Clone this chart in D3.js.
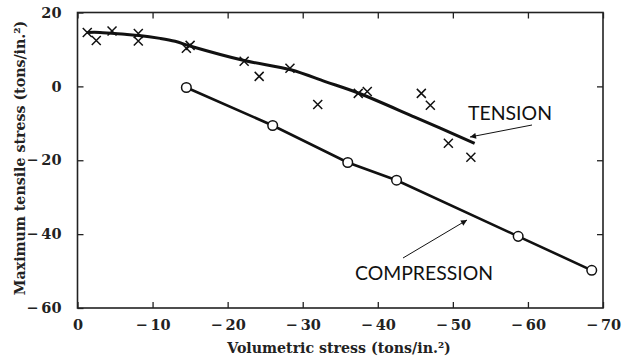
<!DOCTYPE html>
<html><head><meta charset="utf-8">
<script src="https://cdn.jsdelivr.net/npm/d3@7"></script>
<style>body{margin:0;background:#fff}svg{display:block}</style>
</head><body>
<script>
// Data
const tensionPoints = [
  [-1.3,14.6],[-2.5,12.4],[-4.6,15.0],[-8.1,14.3],[-8.1,12.3],[-14.5,10.3],[-15.0,11.1],
  [-22.2,6.8],[-24.2,2.7],[-28.3,4.9],[-32.0,-4.9],[-37.4,-1.9],[-38.6,-1.4],
  [-45.8,-1.9],[-47.0,-5.1],[-49.4,-15.4],[-52.4,-19.2]
];
const tensionCurve = [
  [-1.3,14.6],[-3.0,14.6],[-6.3,14.1],[-8.2,13.8],[-11,13.0],[-13,12.2],[-15.2,10.8],
  [-22.2,7.0],[-28.4,4.5],[-33,1.3],[-37.4,-1.8],[-45,-8.4],[-52.9,-15.4]
];
const compressionPoints = [
  [-14.5,-0.3],[-26.0,-10.6],[-36.0,-20.6],[-42.5,-25.4],[-58.7,-40.6],[-68.5,-49.8]
];
const xTicks = [0,-10,-20,-30,-40,-50,-60,-70];
const yTicks = [20,0,-20,-40,-60];
const rightTicks = [0,-20,-40];
const xTitle = "Volumetric stress (tons/in.²)";
const yTitle = "Maximum tensile stress (tons/in.²)";

const W=624,H=358;
const L=77.5,R=603,T=12.5,B=308;
const svg=d3.select("body").append("svg").attr("width",W).attr("height",H);
const x=d3.scaleLinear().domain([0,-70]).range([L,R]);
const y=d3.scaleLinear().domain([-60,20]).range([B,T]);
const fmt=d=> d<0 ? "\u2212\u2009"+Math.abs(d) : String(d);
const serif="'DejaVu Serif', serif";

// axes with inward ticks
const gB=svg.append("g").attr("transform",`translate(0,${B})`)
  .call(d3.axisBottom(x).tickValues(xTicks).tickSizeInner(-6).tickSizeOuter(0).tickPadding(12).tickFormat(fmt));
const gT=svg.append("g").attr("transform",`translate(0,${T})`)
  .call(d3.axisTop(x).tickValues(xTicks).tickSizeInner(-6).tickSizeOuter(0).tickFormat(""));
const gL=svg.append("g").attr("transform",`translate(${L},0)`)
  .call(d3.axisLeft(y).tickValues(yTicks).tickSizeInner(-6).tickSizeOuter(0).tickPadding(16).tickFormat(fmt));
const gR=svg.append("g").attr("transform",`translate(${R},0)`)
  .call(d3.axisRight(y).tickValues(rightTicks).tickSizeInner(-6).tickSizeOuter(0).tickFormat(""));
[gB,gT,gL,gR].forEach(g=>{
  g.select(".domain").remove();
  g.selectAll("line").attr("stroke","#222").attr("stroke-width",1.3);
  g.selectAll("text").attr("font-family",serif).attr("font-weight","bold").attr("font-size",14.5).attr("fill","#222");
});
svg.append("rect").attr("x",L).attr("y",T).attr("width",R-L).attr("height",B-T)
  .attr("fill","none").attr("stroke","#222").attr("stroke-width",1.6);

// titles
svg.append("text").attr("x",339).attr("y",353).attr("text-anchor","middle")
  .attr("font-family",serif).attr("font-weight","bold").attr("font-size",14.2).attr("fill","#222").text(xTitle);
svg.append("text").attr("transform",`translate(25,158) rotate(-90)`).attr("text-anchor","middle")
  .attr("font-family",serif).attr("font-weight","bold").attr("font-size",14.2).attr("fill","#222").text(yTitle);

// tension curve
const line=d3.line().x(d=>x(d[0])).y(d=>y(d[1]));
svg.append("path").datum(tensionCurve).attr("d",line.curve(d3.curveCatmullRom))
  .attr("fill","none").attr("stroke","#111").attr("stroke-width",3);
// compression line
svg.append("path").datum(compressionPoints).attr("d",d3.line().x(d=>x(d[0])).y(d=>y(d[1])))
  .attr("fill","none").attr("stroke","#111").attr("stroke-width",2.6);

// crosses
const s=4.5;
svg.append("g").selectAll("path").data(tensionPoints).join("path")
  .attr("d",d=>{const cx=x(d[0]),cy=y(d[1]);return `M${cx-s},${cy-s}L${cx+s},${cy+s}M${cx-s},${cy+s}L${cx+s},${cy-s}`;})
  .attr("stroke","#111").attr("stroke-width",1.5).attr("fill","none");
// circles
svg.append("g").selectAll("circle").data(compressionPoints).join("circle")
  .attr("cx",d=>x(d[0])).attr("cy",d=>y(d[1])).attr("r",4.8)
  .attr("fill","#fff").attr("stroke","#111").attr("stroke-width",1.5);

// arrows
svg.append("defs").append("marker").attr("id","ah").attr("viewBox","0 0 10 10")
  .attr("refX",10).attr("refY",5).attr("markerWidth",9).attr("markerHeight",6).attr("orient","auto")
  .attr("markerUnits","userSpaceOnUse")
  .append("path").attr("d","M0,0L10,5L0,10Z").attr("fill","#111");
svg.append("line").attr("x1",532).attr("y1",125).attr("x2",470).attr("y2",137)
  .attr("stroke","#111").attr("stroke-width",1).attr("marker-end","url(#ah)");
svg.append("line").attr("x1",403).attr("y1",258).attr("x2",467).attr("y2",220)
  .attr("stroke","#111").attr("stroke-width",1).attr("marker-end","url(#ah)");

const sans="Lato, 'Open Sans', sans-serif";
svg.append("text").attr("x",468).attr("y",120).attr("font-family",sans).attr("font-size",20)
  .attr("textLength",84).attr("lengthAdjust","spacingAndGlyphs").attr("fill","#111").text("TENSION");
svg.append("text").attr("x",355).attr("y",280).attr("font-family",sans).attr("font-size",20)
  .attr("textLength",138).attr("lengthAdjust","spacingAndGlyphs").attr("fill","#111").text("COMPRESSION");
</script>
</body></html>
